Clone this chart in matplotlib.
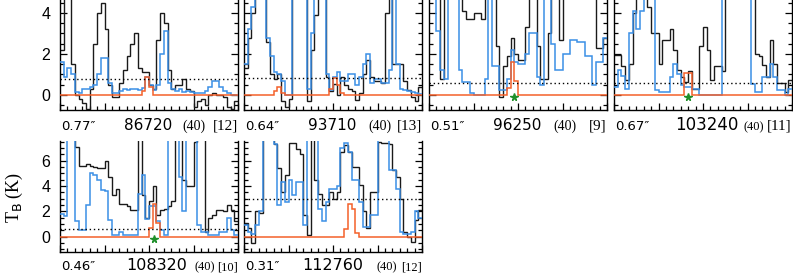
import numpy as np
import matplotlib
matplotlib.use('Agg')
import matplotlib.pyplot as plt
from matplotlib.ticker import MultipleLocator

# ---------------- data ----------------
freqs = ['86720', '93710', '96250', '103240', '108320', '112760']
beams = ['0.77\u2033', '0.64\u2033', '0.51\u2033', '0.67\u2033', '0.46\u2033', '0.31\u2033']
vranges = ['(40)', '(40)', '(40)', '(40)', '(40)', '(40)']
counts = ['[12]', '[13]', '[9]', '[11]', '[10]', '[12]']
noise_levels = [0.78, 0.85, 0.57, 0.60, 0.58, 3.0]
star_pos = [None, None, 11.4, 10.0, 12.7, None]

black_1 = [2.2, 6, 6, 1.5, 0.0, -0.2, -0.4, -0.7, 0.3, 2.5, 4.0, 4.5, 3.2, 0.5, -0.1, -0.1, 0.6, 1.2, 1.9, 2.5, 3.0, 1.3, 1.1, 1.1, 0.5, 0.3, 2.7, 4.0, 3.5, 1.2, 0.3, 0.5, 0.5, 0.8, 0.3, 0.2, -0.6, -0.3, -0.2, -0.5, 0.0, 0.1, 0.0, 0.0, -0.1, -0.6, -0.7, -0.3]
blue_1 = [1.6, 0.9, 1.3, 1.0, 0.15, 0.1, 0.3, 0.3, 0.4, 0.5, 1.0, 1.8, 1.8, 0.6, 0.1, 0.1, 0.2, 0.3, 0.25, 0.3, 0.3, 0.25, 0.35, 0.9, 0.5, 0.25, 0.5, 2.0, 3.1, 0.6, 0.3, 0.2, 0.3, 0.15, 0.2, 0.15, 0.1, 0.1, 0.1, 0.2, 0.4, 0.7, 0.7, 0.4, 0.2, 0.1, 0.0, 0.0]
model_1 = [0, 0, 0, 0, 0, 0, 0, 0, 0, 0, 0, 0, 0, 0, 0, 0, 0, 0, 0, 0, 0, 0, 0.2, 0.9, 0.4, 0, 0, 0, 0, 0, 0, 0, 0, 0, 0, 0, 0, 0, 0, 0, 0, 0, 0, 0, 0, 0, 0, 0]

black_2 = [1.3, 2.8, 4.0, 6, 6, 5, 2.6, 1.0, 0.8, 1.0, -0.3, -0.6, -0.2, 5, 6, 6, 6, -0.3, 2.2, 3.9, 6, 6, 0.9, 0.2, 0.55, 0.0, 0.9, 0.5, 0.3, 0.2, -0.25, 0.1, 1.0, 1.7, 0.9, 0.7, 0.7, 0.6, 4.0, 6, 1.5, 1.5, 1.5, 0.7, 0.25, -0.1, -0.3, 0.4]
blue_2 = [1.5, 3.2, 4.3, 6, 6, 6, 2.8, 1.9, 1.1, 1.0, 0.7, 0.0, 0.0, 6, 6, 6, 6, 0.3, 3.0, 6, 6, 6, 1.0, 0.25, 0.9, 1.1, 0.7, 0.7, 1.0, 1.0, 0.5, 0.9, 1.5, 2.0, 0.6, 0.8, 0.8, 0.6, 0.6, 1.2, 6, 1.5, 0.3, 0.25, 0.2, 0.15, 0.1, 0.05]
model_2 = [0, 0, 0, 0, 0, 0, 0, 0, 0.2, 0.4, 0.1, 0, 0, 0, 0, 0, 0, 0, 0, 0, 0, 0, 0, 0.3, 0.85, 0.5, 0.1, 0, 0, 0, 0, 0, 0, 0, 0, 0, 0, 0, 0, 0, 0, 0, 0, 0, 0, 0, 0, 0]

black_3 = [6, 6, 6, 0.8, 6, 6, 6, 6, 6, 4.1, 3.7, 3.7, 4.0, 4.0, 3.7, 6, 6, 6, 2.4, -0.1, 1.4, 1.9, 2.8, 2.0, 1.7, 1.7, 3.3, 6, 6, 2.4, 0.8, 0.8, 3.0, 6, 6, 2.7, 6, 6, 6, 6, 6, 6, 6, 6, 6, 2.3, 2.3, 2.8]
blue_3 = [6, 6, 3.1, 1.2, 0.8, 6, 6, 6, 1.2, 0.65, 0.65, 0.1, 0.0, 0.0, 0.0, 0.8, 6, 1.4, 1.4, 0.25, 0.25, 0.8, 2.2, 1.6, 1.5, 1.5, 2.0, 3.0, 3.0, 0.9, 0.5, 6, 6, 2.5, 1.2, 1.2, 2.0, 2.0, 2.7, 2.7, 2.6, 2.6, 1.9, 1.9, 0.5, 1.6, 1.6, 2.8]
model_3 = [0, 0, 0, 0, 0, 0, 0, 0, 0, 0, 0, 0, 0, 0, 0, 0, 0, 0, 0, 0, 0, 0.33, 1.6, 0.7, 0, 0, 0, 0, 0, 0, 0, 0, 0, 0, 0, 0, 0, 0, 0, 0, 0, 0, 0, 0, 0, 0, 0, 0]

black_4 = [1.95, 1.95, 1.4, 0.75, 1.5, 4.0, 6, 6, 6, 4.3, 3.0, 3.0, 1.5, 2.7, 2.7, 3.2, 2.2, 1.2, 0.9, 0.65, 1.15, 0.3, 0.3, 2.4, 3.3, 2.2, 0.75, 1.4, 1.4, 1.15, 6, 6, 6, 6, 6, 6, 6, 6, 2.0, 1.9, 1.45, 0.9, 2.7, 1.5, 0.6, 0.6, 0.15, 0.75]
blue_4 = [0.4, 1.2, 0.95, 0.3, 3.0, 4.1, 3.2, 4.1, 6, 6, 6, 0.25, 0.15, 0.15, 0.15, 0.9, 1.5, 1.0, 0.5, 0.4, 0.4, 0.3, 0.3, 0.0, 0.0, 0.0, 0.0, 0.0, 0.0, 6, 6, 6, 6, 6, 6, 6, 6, 0.55, 0.15, 0.15, 0.9, 0.9, 1.5, 0.9, 0.25, 0.25, 0.0, 0.3]
model_4 = [0, 0, 0, 0, 0, 0, 0, 0, 0, 0, 0, 0, 0, 0, 0, 0, 0, 0, 0, 1.05, 1.05, 0, 0, 0, 0, 0, 0, 0, 0, 0, 0, 0, 0, 0, 0, 0, 0, 0, 0, 0, 0, 0, 0, 0, 0, 0, 0, 0]

black_5 = [8, 8, 8, 8, 7.1, 5.6, 5.6, 5.7, 5.6, 5.5, 5.4, 5.4, 6.0, 4.7, 3.3, 3.8, 2.6, 2.6, 2.4, 2.1, 2.1, 8, 3.3, 1.5, 2.8, 4.0, 1.7, 2.1, 2.2, 2.4, 2.8, 8, 8, 4.5, 4.0, 4.0, 7.5, 8, 8, 0.4, 1.45, 1.7, 2.1, 2.1, 2.0, 2.5, 2.1, 1.2]
blue_5 = [1.8, 1.6, 8, 8, 1.2, 0.5, 0.5, 2.5, 5.0, 4.9, 4.5, 3.7, 3.6, 1.3, 0.1, 0.1, 0.4, 0.1, 0.1, 0.1, 0.1, 3.4, 4.9, 1.4, 2.4, 2.4, 1.2, 0.5, 0.1, 8, 8, 8, 4.7, 2.0, 8, 8, 8, 0.9, 0.4, 0.4, 0.1, 0.1, 0.1, 0.4, 0.4, 1.45, 0.5, 0.1]
model_5 = [0, 0, 0, 0, 0, 0, 0, 0, 0, 0, 0, 0, 0, 0, 0, 0, 0, 0, 0, 0, 0, 0, 0, 0, 0.65, 2.6, 1.05, 0, 0, 0, 0, 0, 0, 0, 0, 0, 0, 0, 0, 0, 0, 0, 0, 0, 0, 0, 0, 0]

black_6 = [1.05, 0.65, -0.5, 2.0, 1.85, 8, 8, 8, 7.3, 5.4, 3.5, 4.9, 7.4, 7.4, 6.9, 6.5, 1.7, 0.1, 8, 4.5, 3.4, 2.5, 2.5, 3.5, 3.0, 3.5, 6.7, 7.2, 6.7, 5.5, 5.5, 4.1, 2.0, 0.65, 3.5, 3.5, 7.5, 7.4, 7.4, 7.3, 5.3, 4.7, 3.0, 0.4, 0.0, -0.4, 1.3, 2.1]
blue_6 = [0.9, 0.4, 0.25, 0.9, 2.0, 8, 8, 8, 7.3, 2.5, 4.3, 2.75, 4.5, 3.3, 4.3, 4.3, 0.9, 8, 8, 8, 2.2, 1.2, 2.75, 3.8, 3.8, 4.0, 7.0, 7.4, 6.7, 4.5, 4.5, 2.75, 0.8, 0.8, 1.7, 1.7, 8, 8, 8, 5.3, 5.3, 3.8, 0.4, 0.25, 0.25, 0.4, 2.0, 1.45]
model_6 = [0, 0, 0, 0, 0, 0, 0, 0, 0, 0, 0, 0, 0, 0, 0, 0, 0, 0, 0, 0, 0, 0, 0, 0, 0, 0, 0, 0.6, 2.6, 2.2, 0.3, 0, 0, 0, 0, 0, 0, 0, 0, 0, 0, 0, 0, 0, 0, 0, 0, 0]

blacks = [black_1, black_2, black_3, black_4, black_5, black_6]
blues = [blue_1, blue_2, blue_3, blue_4, blue_5, blue_6]
models = [model_1, model_2, model_3, model_4, model_5, model_6]

# ---------------- layout / style ----------------
W, H = 793, 274
BLACK = '#1a1a1a'
BLUE = '#3b8fe6'
ORANGE = '#f4602a'
GREEN = '#1f8f2a'
SANS = ['DejaVu Sans']
LSANS = ['Liberation Sans', 'DejaVu Sans']
SERIF = ['Liberation Serif', 'DejaVu Serif']

panel_left_px = [60, 244, 429, 614, 60, 244]
panel_w_px = 178
row_of = [0, 0, 0, 0, 1, 1]
row_top_px = [0, 141]
row_bot_px = [110, 252]
row_ylim = [(-0.73, 4.63), (-1.21, 7.55)]
row_star_y = [-0.09, -0.15]
row_text_base_px = [130, 270]
freq_x = [0.36, 0.36, 0.36, 0.343, 0.37, 0.326]
freq_size = [11, 11, 11, 12, 11.5, 11.5]
vr_x = [0.69, 0.70, 0.70, 0.725, 0.755, 0.745]
vr_size = [10, 10, 10, 9, 9, 9]
ct_size = [11, 11, 11, 11, 9, 9]

plt.rcParams['font.family'] = LSANS
fig = plt.figure(figsize=(W / 100, H / 100), dpi=100)

for i in range(6):
    r = row_of[i]
    l = panel_left_px[i]
    rect = [l / W, (H - row_bot_px[r]) / H, panel_w_px / W,
            (row_bot_px[r] - row_top_px[r]) / H]
    ax = fig.add_axes(rect)
    nch = len(blacks[i])
    edges = np.arange(nch + 1) * 0.5
    ax.stairs(blacks[i], edges, color=BLACK, lw=1.0, baseline=None, zorder=2)
    ax.stairs(blues[i], edges, color=BLUE, lw=1.1, baseline=None, zorder=3)
    ax.stairs(models[i], edges, color=ORANGE, lw=1.1, baseline=None, zorder=4)
    ax.axhline(noise_levels[i], color='black', lw=1.0, ls=(0, (1, 2)), zorder=5)
    if star_pos[i] is not None:
        ax.plot([star_pos[i]], [row_star_y[r]], marker='*', ms=5.5, color=GREEN,
                zorder=6, clip_on=False)
    ax.set_xlim(edges[0], edges[-1])
    ax.set_ylim(*row_ylim[r])
    ax.spines['top'].set_visible(False)
    for s in ['left', 'right', 'bottom']:
        ax.spines[s].set_linewidth(1.0)
    ax.xaxis.set_major_locator(MultipleLocator(6))
    ax.xaxis.set_minor_locator(MultipleLocator(1))
    ax.yaxis.set_major_locator(MultipleLocator(2))
    ax.yaxis.set_minor_locator(MultipleLocator(0.5))
    ax.tick_params(axis='both', which='both', direction='in', top=False,
                   right=True, left=True, bottom=True, width=0.9)
    ax.tick_params(axis='both', which='major', length=5)
    ax.tick_params(axis='both', which='minor', length=3)
    ax.tick_params(axis='x', labelbottom=False)
    if i in (0, 4):
        ax.tick_params(axis='y', labelleft=True, labelsize=11.5, pad=7)
    else:
        ax.tick_params(axis='y', labelleft=False)
    ax.tick_params(axis='y', labelright=False)

    hpx = row_bot_px[r] - row_top_px[r]
    ty = (row_bot_px[r] - row_text_base_px[r]) / hpx
    ax.text(0.005, ty, beams[i], transform=ax.transAxes, ha='left', va='baseline',
            fontsize=9.5, family=SANS)
    ax.text(freq_x[i], ty, freqs[i], transform=ax.transAxes, ha='left', va='baseline',
            fontsize=freq_size[i], family=SANS)
    ax.text(vr_x[i], ty, vranges[i], transform=ax.transAxes, ha='left', va='baseline',
            fontsize=vr_size[i], family=SERIF)
    ax.text(1.0, ty, counts[i], transform=ax.transAxes, ha='right', va='baseline',
            fontsize=ct_size[i], family=SERIF)

fig.text(14 / W, 1 - 197 / H, r'T$_\mathrm{B}$ (K)', rotation=90, ha='center',
         va='center', fontsize=13, family=SERIF)

fig.savefig('out.png', dpi=100)
